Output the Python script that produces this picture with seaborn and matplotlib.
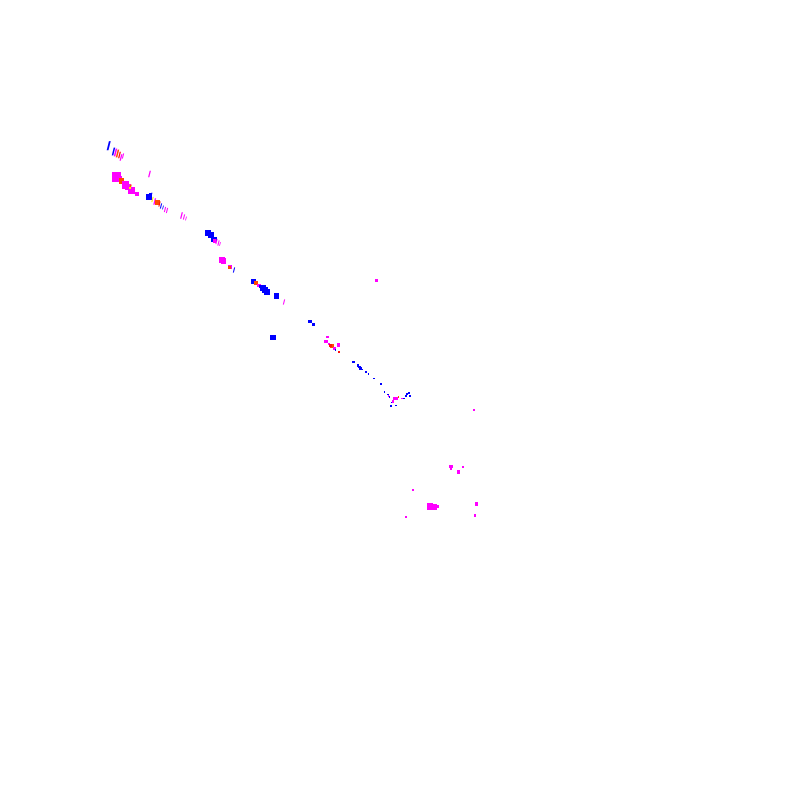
import numpy as np
import pandas as pd
import matplotlib
matplotlib.use("Agg")
import matplotlib.pyplot as plt
import seaborn as sns

# marks (x, y in picture pixels, y going down)
mark_x = [108.7, 113.5, 115.5, 117.5, 119.5, 121, 123, 116.5, 119, 121.5,
          125.5, 128, 130, 131.5, 130, 136.7, 149.5, 150, 149, 151,
          152.5, 154.7, 157.5, 159.5, 161, 163, 165, 167, 181.5, 184,
          186, 208, 209, 211, 214, 214.5, 216.5, 218.5, 220, 222,
          223.5, 230, 229.5, 234, 253.5, 256, 259, 261, 263, 265,
          267, 276.7, 284, 273, 310, 313.5, 327.5, 326, 329, 331.7,
          330.5, 338.8, 334.7, 335.5, 339, 352.5, 353.5, 358, 359.5, 360.5,
          362, 366, 368.5, 374, 381, 384.5, 388, 389.5, 388.5, 394.5,
          397, 398.5, 402, 404, 406, 407, 409, 410, 393, 391.5,
          390.8, 396, 376.7, 474.3, 451.3, 451, 458.5, 462.7, 412.7, 430,
          434, 437, 476.5, 475, 405.7]
mark_y = [145.7, 151.5, 152.5, 153.5, 155, 157.5, 156, 177, 179, 181,
          185, 187, 188.5, 190.5, 188, 194, 174, 194.3, 197, 196,
          199.5, 201.5, 202.5, 204, 206, 207.5, 209.5, 210.5, 215.5, 217,
          218.5, 233, 234, 235, 239.5, 241, 241.5, 243, 244, 260,
          261, 267, 267.5, 270, 281.5, 283, 285.5, 286.5, 288, 290,
          292, 296, 302, 337.5, 321.5, 324.5, 337, 341.7, 344, 346,
          345.5, 345, 348.8, 350, 352, 362, 362, 365.5, 367, 368.5,
          369.5, 372, 374.3, 378.5, 384, 392, 394.5, 397, 396, 398.5,
          398.5, 397, 398.5, 398.5, 396, 394, 393, 396, 401.5, 402.5,
          406, 405.5, 280.3, 410.3, 466.5, 468.5, 472, 467.3, 490, 506.5,
          507, 506.5, 504, 515.7, 517.3]
mark_colour = ["blue", "blue", "magenta", "orange", "red", "magenta", "magenta", "magenta", "magenta", "orange",
               "magenta", "magenta", "orange", "magenta", "yellow", "magenta", "magenta", "blue", "blue", "blue",
               "yellow", "magenta", "orange", "red", "blue", "blue", "magenta", "magenta", "magenta", "magenta",
               "magenta", "blue", "magenta", "blue", "blue", "magenta", "magenta", "magenta", "magenta", "magenta",
               "magenta", "magenta", "orange", "blue", "blue", "orange", "magenta", "blue", "blue", "blue",
               "blue", "blue", "magenta", "blue", "blue", "blue", "magenta", "magenta", "magenta", "orange",
               "red", "magenta", "magenta", "blue", "red", "yellow", "blue", "blue", "blue", "blue",
               "blue", "blue", "blue", "blue", "blue", "blue", "blue", "blue", "magenta", "magenta",
               "magenta", "orange", "magenta", "blue", "blue", "blue", "blue", "blue", "magenta", "blue",
               "blue", "blue", "magenta", "magenta", "magenta", "magenta", "magenta", "magenta", "magenta", "magenta",
               "magenta", "magenta", "magenta", "magenta", "magenta"]
mark_kind = ["dash", "dash", "dash", "dash", "dash", "dash", "dash", "dot", "dot", "dot",
             "dot", "dot", "dash", "dot", "dot", "dot", "dash", "dot", "dot", "dash",
             "dash", "dash", "dot", "dash", "dash", "dash", "dash", "dash", "dash", "dash",
             "dash", "dot", "dot", "dot", "dot", "dot", "dash", "dash", "dash", "dot",
             "dot", "dot", "dot", "dash", "dot", "dot", "dot", "dot", "dot", "dot",
             "dot", "dot", "dash", "dot", "dot", "dot", "dot", "dot", "dot", "dot",
             "dot", "dot", "dot", "dot", "dot", "dot", "dot", "dot", "dot", "dot",
             "dot", "dot", "dot", "dot", "dot", "dot", "dot", "dot", "dot", "dot",
             "dot", "dot", "dot", "dot", "dot", "dot", "dot", "dot", "dot", "dot",
             "dot", "dot", "dot", "dot", "dot", "dot", "dot", "dot", "dot", "dot",
             "dot", "dot", "dot", "dot", "dot"]
mark_px = [7, 6, 6, 6, 5, 5, 4, 7, 5, 4,
           6, 5, 6, 5, 2, 3, 5, 1.5, 5, 5,
           4, 5, 4, 4, 4, 3, 4, 4, 5, 4,
           3, 4, 2, 4, 4, 3, 4, 4, 3, 4,
           4, 3, 2, 4, 4, 3, 3, 3, 4, 4,
           4, 4, 4, 4, 3, 2, 2, 2.5, 2, 3,
           2, 2.5, 2.5, 1.5, 1.5, 1.5, 2, 2, 2, 2,
           1.5, 1.5, 1.5, 1.5, 1.5, 1.5, 1.5, 1.5, 1.5, 3,
           2, 1.5, 1.5, 1.5, 2, 2, 2, 1.5, 2, 1.5,
           1.5, 1.5, 2, 1.5, 3, 2, 2.5, 1.5, 1.5, 5,
           5, 3, 3, 2, 1.5]

colours = {"blue": "#0000ff", "magenta": "#ff00ff", "orange": "#ff4a00",
           "red": "#ff1010", "yellow": "#ffee00"}
# slanted stroke for the dashes, plain square for the dots
dash_marker = [(-0.45, -1), (-0.05, -1), (0.45, 1), (0.05, 1)]
markers = {"dot": "s", "dash": dash_marker}

df = pd.DataFrame({"x": mark_x, "y": mark_y, "colour": mark_colour,
                   "kind": mark_kind, "px": mark_px})
size_map = {v: (v * 0.72 * 1.3) ** 2 for v in df["px"].unique()}

sns.set_style("white")
fig = plt.figure(figsize=(8, 8), dpi=100)
ax = fig.add_axes([0, 0, 1, 1])
sns.scatterplot(data=df, x="x", y="y", hue="colour", palette=colours,
                style="kind", markers=markers, size="px", sizes=size_map,
                linewidth=0, legend=False, ax=ax)
ax.set_xlim(0, 800)
ax.set_ylim(800, 0)
ax.axis("off")
fig.savefig("out.png", dpi=100, facecolor="white")
